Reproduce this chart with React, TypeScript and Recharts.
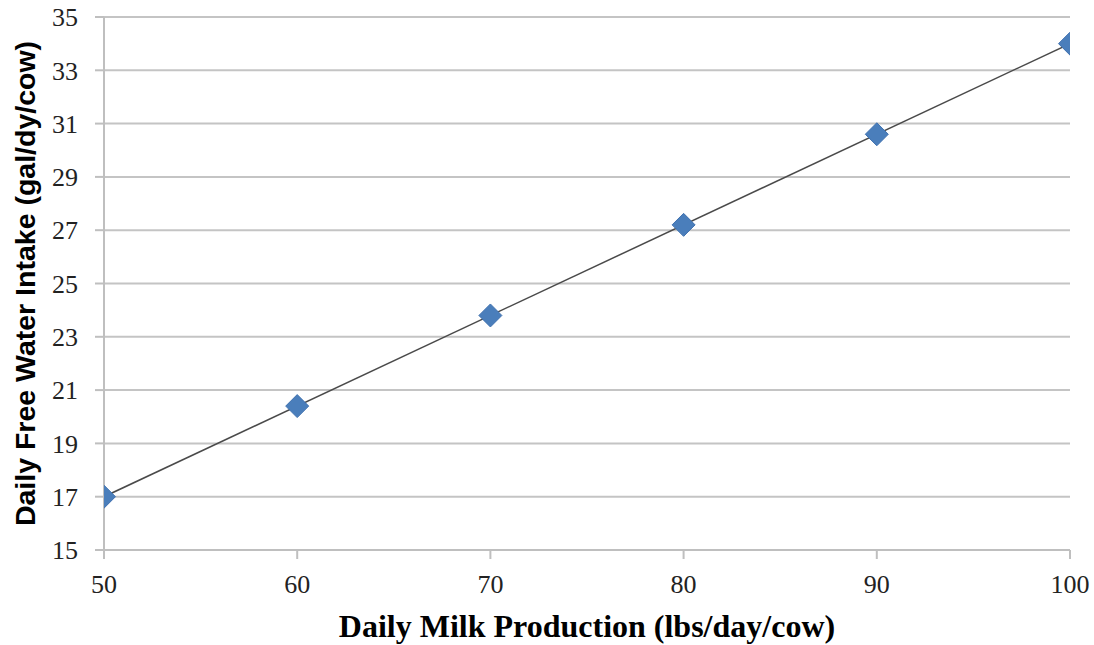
import React from "react";
import { ComposedChart, Scatter, Line, XAxis, YAxis, CartesianGrid, Label } from "recharts";

const milkProduction = [50, 60, 70, 80, 90, 100];
const waterIntake = [17, 20.4, 23.8, 27.2, 30.6, 34];
const trendX = [50, 100];
const trendY = [17, 34];
const xTicks = [50, 60, 70, 80, 90, 100];
const yTicks = [15, 17, 19, 21, 23, 25, 27, 29, 31, 33, 35];

const points = milkProduction.map((x, i) => ({ x, y: waterIntake[i] }));
const trend = trendX.map((x, i) => ({ x, y: trendY[i] }));

const Diamond = (props: any) => {
  const { cx, cy } = props;
  const r = 11.5;
  return (
    <polygon
      points={`${cx},${cy - r} ${cx + r},${cy} ${cx},${cy + r} ${cx - r},${cy}`}
      fill="#4a7ebb"
      stroke="#4072b0"
      strokeWidth={1}
    />
  );
};

export default function App() {
  return (
    <div style={{ position: "absolute", left: 0, top: 0, background: "#fff" }}>
      <ComposedChart width={1094} height={645} margin={{ top: 17, right: 24, bottom: 45, left: 44 }}>
        <CartesianGrid vertical={false} stroke="#c4c4c4" strokeWidth={2} />
        <XAxis
          type="number"
          dataKey="x"
          domain={[50, 100]}
          ticks={xTicks}
          allowDataOverflow
          height={50}
          axisLine={{ stroke: "#bfbfbf", strokeWidth: 2 }}
          tickLine={{ stroke: "#bfbfbf", strokeWidth: 2 }}
          tickSize={9}
          tickMargin={16}
          tick={{ fill: "#222", fontSize: 26, fontFamily: "Liberation Serif" }}
        >
          <Label
            value="Daily Milk Production (lbs/day/cow)"
            position="insideBottom"
            offset={-37}
            style={{ fill: "#000", fontSize: 32, fontWeight: "bold", fontFamily: "Liberation Serif" }}
          />
        </XAxis>
        <YAxis
          type="number"
          dataKey="y"
          domain={[15, 35]}
          ticks={yTicks}
          allowDataOverflow
          width={60}
          axisLine={{ stroke: "#bfbfbf", strokeWidth: 2 }}
          tickLine={{ stroke: "#bfbfbf", strokeWidth: 2 }}
          tickSize={9}
          tickMargin={17}
          tick={{ fill: "#222", fontSize: 26, fontFamily: "Liberation Serif" }}
        >
          <Label
            value="Daily Free Water Intake (gal/dy/cow)"
            angle={-90}
            position="insideLeft"
            offset={-19}
            style={{ textAnchor: "middle", fill: "#000", fontSize: 28.5, fontWeight: "bold", fontFamily: "Liberation Sans" }}
          />
        </YAxis>
        <Line
          data={trend}
          dataKey="y"
          type="linear"
          stroke="#4a4a4a"
          strokeWidth={1.5}
          dot={false}
          activeDot={false}
          isAnimationActive={false}
        />
        <Scatter data={points} dataKey="y" shape={<Diamond />} isAnimationActive={false} />
      </ComposedChart>
    </div>
  );
}
